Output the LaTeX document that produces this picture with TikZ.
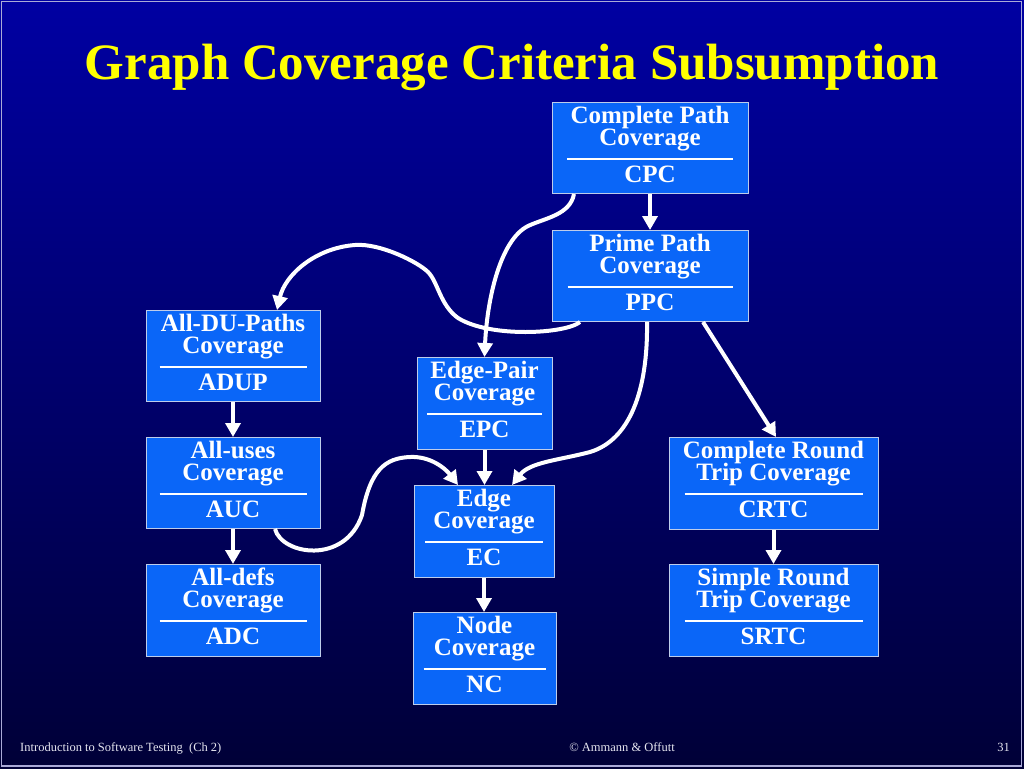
\documentclass[tikz,border=0pt]{standalone}
\usepackage{fontspec}
\setmainfont{Liberation Serif}
\usetikzlibrary{arrows.meta}
\definecolor{boxblue}{RGB}{10,102,248}
\definecolor{boxedge}{RGB}{190,205,235}
\definecolor{bgtop}{RGB}{0,0,162}
\definecolor{bgbot}{RGB}{0,0,55}
\definecolor{frameclr}{RGB}{170,170,215}
\definecolor{titley}{RGB}{255,255,0}
\definecolor{footclr}{RGB}{230,230,240}
\tikzset{
  critbox/.style={draw=boxedge, line width=1pt, fill=boxblue, inner sep=0pt},
  boxtext/.style={text=white, font=\fontsize{25}{22}\selectfont\bfseries, anchor=base, inner sep=0pt},
  sepline/.style={white, line width=2pt},
  conn/.style={white, line width=4pt, -{Triangle[length=14pt,width=15pt]}},
  foot/.style={text=footclr, font=\fontsize{12.5}{14}\selectfont, anchor=base, inner sep=0pt}
}
% #1 name, #2 cx, #3 top, #4 width, #5 height, #6 half line, #7 line1, #8 line2, #9 abbr
\newcommand\critbox[9]{%
  \node[critbox, minimum width=#4pt, minimum height=#5pt, anchor=north] (#1) at (#2,#3) {};
  \node[boxtext] (#1-a) at (#2,#3+21) {#7};
  \node[boxtext] (#1-b) at (#2,#3+43) {#8};
  \draw[sepline] (#2-#6,#3+57) -- (#2+#6,#3+57);
  \node[boxtext] (#1-c) at (#2,#3+80) {#9};
}
\begin{document}
\begin{tikzpicture}[x=1pt,y=-1pt]
\useasboundingbox (0,0) rectangle (1024,768);
\shade[top color=bgtop, bottom color=bgbot] (0,0) rectangle (1024,768);
\draw[frameclr, line width=1.5pt] (1.5,1.5) rectangle (1021.5,766);

\node[text=titley, font=\fontsize{51}{60}\selectfont\bfseries, anchor=base, inner sep=0pt] (title) at (512,79) {Graph Coverage Criteria Subsumption};

\critbox{cpc}{650}{102}{196}{91}{83}{Complete Path}{Coverage}{CPC}
\critbox{ppc}{650}{230}{196}{91}{82.5}{Prime Path}{Coverage}{PPC}
\critbox{adup}{233}{310}{174}{91}{73.5}{All-DU-Paths}{Coverage}{ADUP}
\critbox{epc}{484.5}{357}{135}{92}{57.5}{Edge-Pair}{Coverage}{EPC}
\critbox{auc}{233}{437}{174}{91}{73.5}{All-uses}{Coverage}{AUC}
\critbox{ec}{484}{485}{140}{92}{59}{Edge}{Coverage}{EC}
\critbox{crtc}{773.5}{437}{209}{92}{89}{Complete Round}{Trip Coverage}{CRTC}
\critbox{adc}{233}{564}{174}{92}{73.5}{All-defs}{Coverage}{ADC}
\critbox{srtc}{773.5}{564}{209}{92}{89}{Simple Round}{Trip Coverage}{SRTC}
\critbox{nc}{484.5}{612}{143}{92}{61}{Node}{Coverage}{NC}

% straight connectors
\draw[conn] (cpc.south) -- (ppc.north);
\draw[conn] (adup.south) -- (auc.north);
\draw[conn] (auc.south) -- (adc.north);
\draw[conn] (epc.south) -- (epc.south |- ec.north);
\draw[conn] (ec.south) -- (ec.south |- nc.north);
\draw[conn] (crtc.south) -- (srtc.north);
\draw[conn] ([xshift=53pt]ppc.south) -- ([xshift=2.5pt]crtc.north);

% curved connectors
\draw[conn] ([xshift=-76pt]cpc.south) .. controls (570,215) and (545,218) .. (528,226)
  .. controls (500,240) and (487,300) .. (epc.north);
\draw[conn] ([xshift=-70pt]ppc.south) .. controls (565,334) and (490,338) .. (458,318)
  .. controls (440,305) and (438,282) .. (428,272)
  .. controls (418,262) and (380,243) .. (355,245)
  .. controls (315,248) and (285,275) .. ([xshift=44pt]adup.north);
\draw[conn] ([xshift=-3pt]ppc.south) .. controls (648,390) and (630,440) .. (590,452)
  .. controls (560,460) and (530,462) .. ([xshift=28pt]ec.north);
\draw[conn] ([xshift=42pt]auc.south) .. controls (282,555) and (345,565) .. (362,515)
  .. controls (370,470) and (385,458) .. (410,457)
  .. controls (430,456) and (445,468) .. ([xshift=-26pt]ec.north);

% footer
\node[foot, anchor=base west] (f1) at (20,751) {Introduction to Software Testing\ \ (Ch 2)};
\node[foot] (f2) at (622,751) {© Ammann \& Offutt};
\node[foot, anchor=base east] (f3) at (1010,751) {31};
\end{tikzpicture}
\end{document}
